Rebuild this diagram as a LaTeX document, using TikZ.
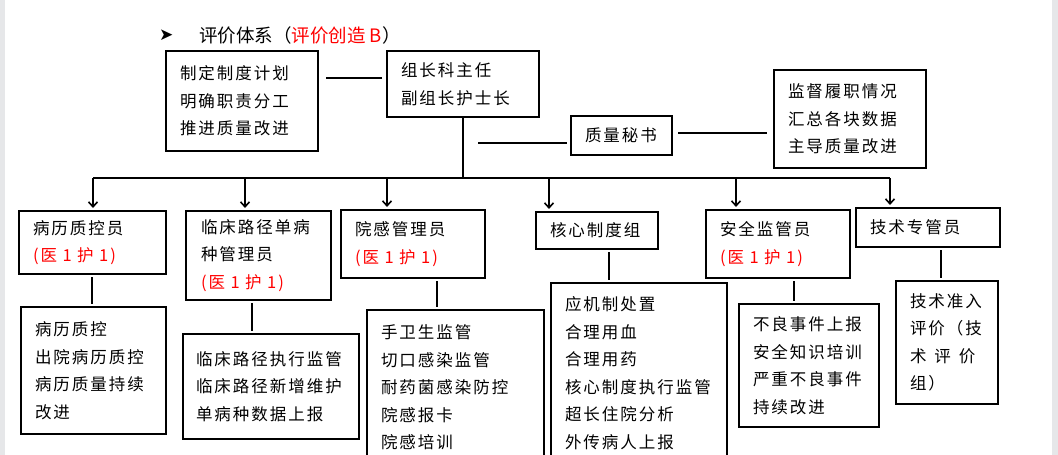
\documentclass[tikz,border=0pt]{standalone}
\usepackage{fontspec}
\usepackage{xcolor}
\usetikzlibrary{arrows.meta}
\setmainfont{Noto Sans CJK SC}
\newfontfamily\cjk[LetterSpace=12]{Noto Sans CJK SC}
\newfontfamily\symfont{DejaVu Sans}
\definecolor{mark}{RGB}{255,0,0}
\definecolor{pagegray}{RGB}{230,231,233}
\newcommand{\boxfont}{\cjk\fontsize{16.5}{27.5}\selectfont}
\newcommand{\ratio}[1]{\textcolor{mark}{#1}}

\begin{document}
\begin{tikzpicture}
  [x=1pt,y=-1pt,
   box/.style={draw,line width=2.2pt,anchor=north west,align=left,
     inner xsep=14pt,inner ysep=0pt,outer sep=0pt,font=\boxfont},
   link/.style={line width=2pt},
   arrow/.style={line width=1.6pt,-{Straight Barb[length=5pt,width=9pt]}}]
  \clip (0,0) rectangle (1058,455);
  \fill[white] (0,0) rectangle (1058,455);
  \fill[pagegray] (0,0) rectangle (5,455);
  \fill[pagegray] (1052,0) rectangle (1058,455);

  % title
  \node[anchor=west,inner sep=0pt,font=\symfont\fontsize{17}{17}\selectfont] (bullet) at (159,35) {➤};
  \node[anchor=west,inner sep=0pt,font=\fontsize{18.5}{18.5}\selectfont] (title) at (199,35)
    {评价体系（\textcolor{mark}{评价创造 B}）};

  % top level
  \node[box,text width=124pt,minimum height=100pt] (plan) at (166,51)
    {制定制度计划\\明确职责分工\\推进质量改进};
  \node[box,text width=124pt,minimum height=66pt] (lead) at (387,51)
    {组长科主任\\副组长护士长};
  \node[box,text width=73pt,minimum height=39pt] (sec) at (571,116) {质量秘书};
  \node[box,text width=124pt,minimum height=98pt] (duty) at (774,70)
    {监督履职情况\\汇总各块数据\\主导质量改进};

  % managers
  \node[box,text width=119pt,minimum height=63pt] (qc) at (19,211)
    {病历质控员\\\ratio{(医 1 护 1)}};
  \node[box,text width=115pt,inner xsep=15pt,minimum height=89pt] (path) at (186,211)
    {临床路径单病\\种管理员\\\ratio{(医 1 护 1)}};
  \node[box,text width=116pt,minimum height=68pt] (infect) at (341,210)
    {院感管理员\\\ratio{(医 1 护 1)}};
  \node[box,text width=94pt,minimum height=37pt] (core) at (536,212) {核心制度组};
  \node[box,text width=116pt,minimum height=68pt] (safe) at (706,210)
    {安全监管员\\\ratio{(医 1 护 1)}};
  \node[box,text width=116pt,minimum height=39pt] (tech) at (856,208) {技术专管员};

  % tasks
  \node[box,text width=117pt,minimum height=127pt] (qcw) at (21,307)
    {病历质控\\出院病历质控\\病历质量持续\\改进};
  \node[box,text width=150pt,inner xsep=13pt,minimum height=105pt] (pathw) at (183,334)
    {临床路径执行监管\\临床路径新增维护\\单病种数据上报};
  \node[box,text width=149pt,minimum height=155pt] (infectw) at (367,310)
    {手卫生监管\\切口感染监管\\耐药菌感染防控\\院感报卡\\院感培训};
  \node[box,text width=148pt,minimum height=180pt] (corew) at (551,283)
    {应机制处置\\合理用血\\合理用药\\核心制度执行监管\\超长住院分析\\外传病人上报};
  \node[box,text width=112pt,minimum height=123pt] (safew) at (739,304)
    {不良事件上报\\安全知识培训\\严重不良事件\\持续改进};
  \node[box,text width=74pt,minimum height=123pt] (techw) at (896,281)
    {技术准入\\评价（技\\术\hspace{8pt}评\hspace{8pt}价\\组）};

  % connectors
  \draw[link,shorten <=5pt,shorten >=8pt] ([yshift=6pt]lead.west) -- ([yshift=6pt]lead.west -| plan.east);
  \coordinate (secL) at (478,143);
  \draw[link,shorten >=4pt] (secL) -- (secL -| sec.west);
  \draw[link,shorten <=6pt,shorten >=7pt] ([yshift=2.5pt]sec.east) -- ([yshift=2.5pt]sec.east -| duty.west);
  \coordinate (busL) at (93,178);
  \coordinate (busR) at (890,178);
  \draw[link] (lead.south) -- (lead.south |- busL);
  \draw[line width=1.6pt] (busL) -- (busR);
  \foreach \n/\x in {qc/93,path/245,infect/387,core/549,safe/736,tech/890}
    \draw[arrow,shorten >=3pt] (\x,0 |- busL) -- (\x,0 |- \n.north);
  \foreach \a/\b/\x in {qc/qcw/92,path/pathw/252,infect/infectw/437,core/corew/609,safe/safew/794,tech/techw/941}
    \draw[link,shorten <=3pt,shorten >=3pt] (\x,0 |- \a.south) -- (\x,0 |- \b.north);

\end{tikzpicture}
\end{document}
